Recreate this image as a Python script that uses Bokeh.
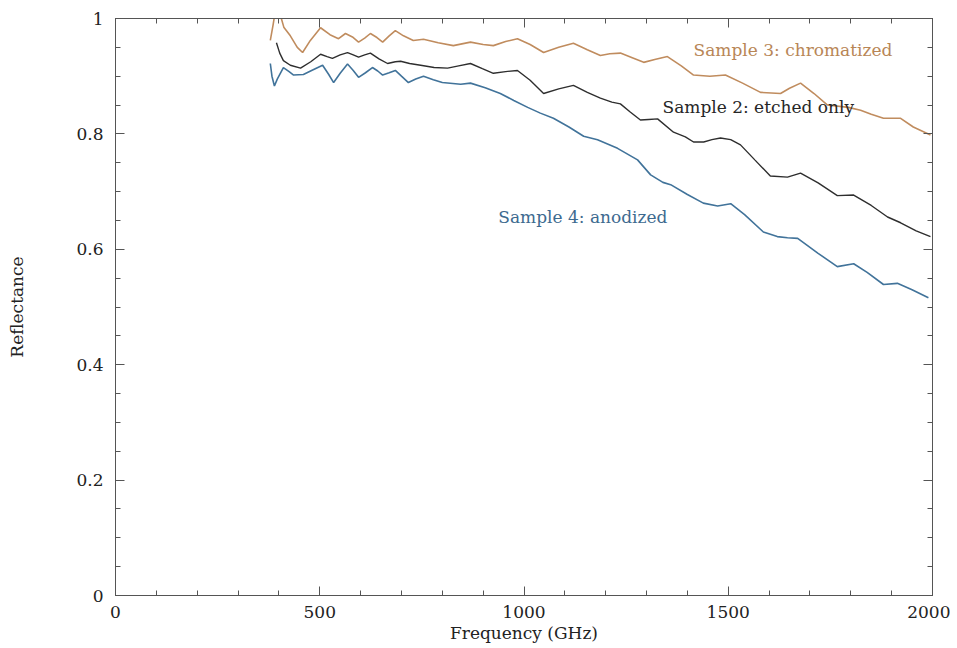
from bokeh.plotting import figure
from bokeh.models import Range1d, LinearAxis, Label, BasicTicker
from bokeh.embed import file_html
from bokeh.resources import INLINE

# ---- data ----
freq3 = [379, 386, 395, 402, 412, 428, 445, 458, 477, 502, 525, 546, 563, 580, 595,
         610, 624, 640, 654, 670, 685, 705, 729, 754, 790, 827, 869, 900, 925, 955,
         984, 1015, 1048, 1085, 1121, 1155, 1187, 1210, 1236, 1265, 1293, 1320, 1351,
         1385, 1415, 1455, 1493, 1535, 1579, 1628, 1650, 1677, 1710, 1743, 1794, 1824,
         1850, 1880, 1922, 1953, 1995]
refl3 = [0.962, 0.990, 1.030, 1.010, 0.985, 0.970, 0.950, 0.941, 0.962, 0.984, 0.972,
         0.965, 0.974, 0.968, 0.959, 0.966, 0.974, 0.967, 0.959, 0.970, 0.979, 0.970,
         0.962, 0.964, 0.958, 0.953, 0.959, 0.955, 0.953, 0.960, 0.965, 0.955, 0.941,
         0.950, 0.957, 0.946, 0.936, 0.939, 0.940, 0.932, 0.924, 0.929, 0.934, 0.918,
         0.902, 0.900, 0.902, 0.888, 0.872, 0.870, 0.879, 0.888, 0.870, 0.850, 0.846,
         0.841, 0.834, 0.827, 0.827, 0.812, 0.798]

freq2 = [394, 402, 411, 428, 453, 478, 502, 518, 531, 550, 568, 582, 595, 610, 624,
         645, 666, 685, 698, 720, 747, 780, 813, 840, 869, 898, 925, 955, 984, 1015,
         1048, 1085, 1121, 1155, 1187, 1215, 1236, 1260, 1285, 1305, 1327, 1366, 1395,
         1415, 1440, 1460, 1481, 1506, 1530, 1565, 1603, 1645, 1677, 1720, 1767, 1807,
         1850, 1890, 1922, 1960, 1995]
refl2 = [0.958, 0.940, 0.927, 0.919, 0.914, 0.925, 0.938, 0.934, 0.931, 0.937, 0.941,
         0.937, 0.933, 0.937, 0.940, 0.930, 0.922, 0.925, 0.926, 0.922, 0.919, 0.915,
         0.914, 0.918, 0.922, 0.913, 0.905, 0.908, 0.910, 0.893, 0.870, 0.878, 0.884,
         0.872, 0.862, 0.855, 0.852, 0.838, 0.824, 0.825, 0.826, 0.803, 0.795, 0.786,
         0.786, 0.790, 0.793, 0.790, 0.781, 0.755, 0.727, 0.725, 0.732, 0.715, 0.693,
         0.694, 0.676, 0.656, 0.646, 0.632, 0.622]

freq4 = [379, 383, 389, 396, 411, 425, 436, 460, 480, 507, 522, 534, 550, 568, 582,
         595, 612, 629, 642, 654, 670, 685, 700, 717, 735, 754, 778, 800, 845, 869,
         905, 942, 975, 1009, 1040, 1072, 1110, 1146, 1180, 1229, 1278, 1310, 1340,
         1359, 1400, 1439, 1474, 1506, 1540, 1586, 1620, 1645, 1670, 1720, 1767, 1807,
         1840, 1880, 1914, 1950, 1990]
refl4 = [0.922, 0.900, 0.883, 0.895, 0.915, 0.908, 0.902, 0.903, 0.910, 0.919, 0.903,
         0.889, 0.905, 0.921, 0.910, 0.898, 0.906, 0.915, 0.909, 0.902, 0.906, 0.910,
         0.900, 0.889, 0.895, 0.900, 0.894, 0.889, 0.886, 0.888, 0.880, 0.870, 0.858,
         0.846, 0.836, 0.827, 0.812, 0.796, 0.790, 0.775, 0.755, 0.729, 0.716, 0.712,
         0.695, 0.680, 0.675, 0.679, 0.660, 0.630, 0.622, 0.620, 0.619, 0.593, 0.570,
         0.575, 0.560, 0.539, 0.541, 0.530, 0.516]

series_names = ["Sample 3: chromatized", "Sample 2: etched only", "Sample 4: anodized"]

FONT = "DejaVu Serif"
C_ORANGE = "#c08c5e"
C_BLACK = "#2e2e2e"
C_BLUE = "#41739a"
AX = "#555555"

p = figure(width=950, height=645, output_backend="svg", toolbar_location=None,
           x_range=Range1d(0, 2000), y_range=Range1d(0, 1),
           min_border_left=115, min_border_right=18, min_border_top=18,
           min_border_bottom=48, background_fill_color="white",
           border_fill_color="white", outline_line_color=AX)
p.grid.visible = False

p.line(freq3, refl3, line_color=C_ORANGE, line_width=1.6)
p.line(freq2, refl2, line_color=C_BLACK, line_width=1.4)
p.line(freq4, refl4, line_color=C_BLUE, line_width=1.6)

xt = BasicTicker(desired_num_ticks=4, num_minor_ticks=5)
yt = BasicTicker(desired_num_ticks=5, num_minor_ticks=4)

def style(ax, labels=True):
    ax.axis_line_color = AX
    ax.major_tick_line_color = AX
    ax.minor_tick_line_color = AX
    ax.major_tick_in = 9
    ax.major_tick_out = 0
    ax.minor_tick_in = 5
    ax.minor_tick_out = 0
    ax.major_label_text_font = FONT
    ax.major_label_text_font_size = "17px"
    ax.major_label_text_color = "#222222"
    ax.axis_label_text_font = FONT
    ax.axis_label_text_font_size = "17px"
    ax.axis_label_text_font_style = "normal"
    ax.axis_label_text_color = "#222222"
    if not labels:
        ax.major_label_text_font_size = "0px"
        ax.major_label_text_color = None

xa = p.xaxis[0]
xa.ticker = xt
style(xa)
xa.axis_label = "Frequency (GHz)"
xa.major_label_standoff = 10
xa.axis_label_standoff = 2

ya = p.yaxis[0]
ya.ticker = yt
style(ya)
ya.axis_label = "Reflectance"
ya.major_label_standoff = 12
ya.axis_label_standoff = 46
ya.major_label_overrides = {0: "0", 1: "1"}

top = LinearAxis(ticker=xt)
style(top, labels=False)
p.add_layout(top, "above")
right = LinearAxis(ticker=yt)
style(right, labels=False)
p.add_layout(right, "right")

p.add_layout(Label(x=1415, y=0.945, text=series_names[0], text_font=FONT,
                   text_font_size="17px", text_color="#b88656",
                   text_baseline="middle", text_align="left"))
p.add_layout(Label(x=1339, y=0.846, text=series_names[1], text_font=FONT,
                   text_font_size="17px", text_color="#262626",
                   text_baseline="middle", text_align="left"))
p.add_layout(Label(x=937, y=0.656, text=series_names[2], text_font=FONT,
                   text_font_size="17px", text_color="#3d6a8f",
                   text_baseline="middle", text_align="left"))

open("out.html", "w").write(file_html(p, INLINE))
